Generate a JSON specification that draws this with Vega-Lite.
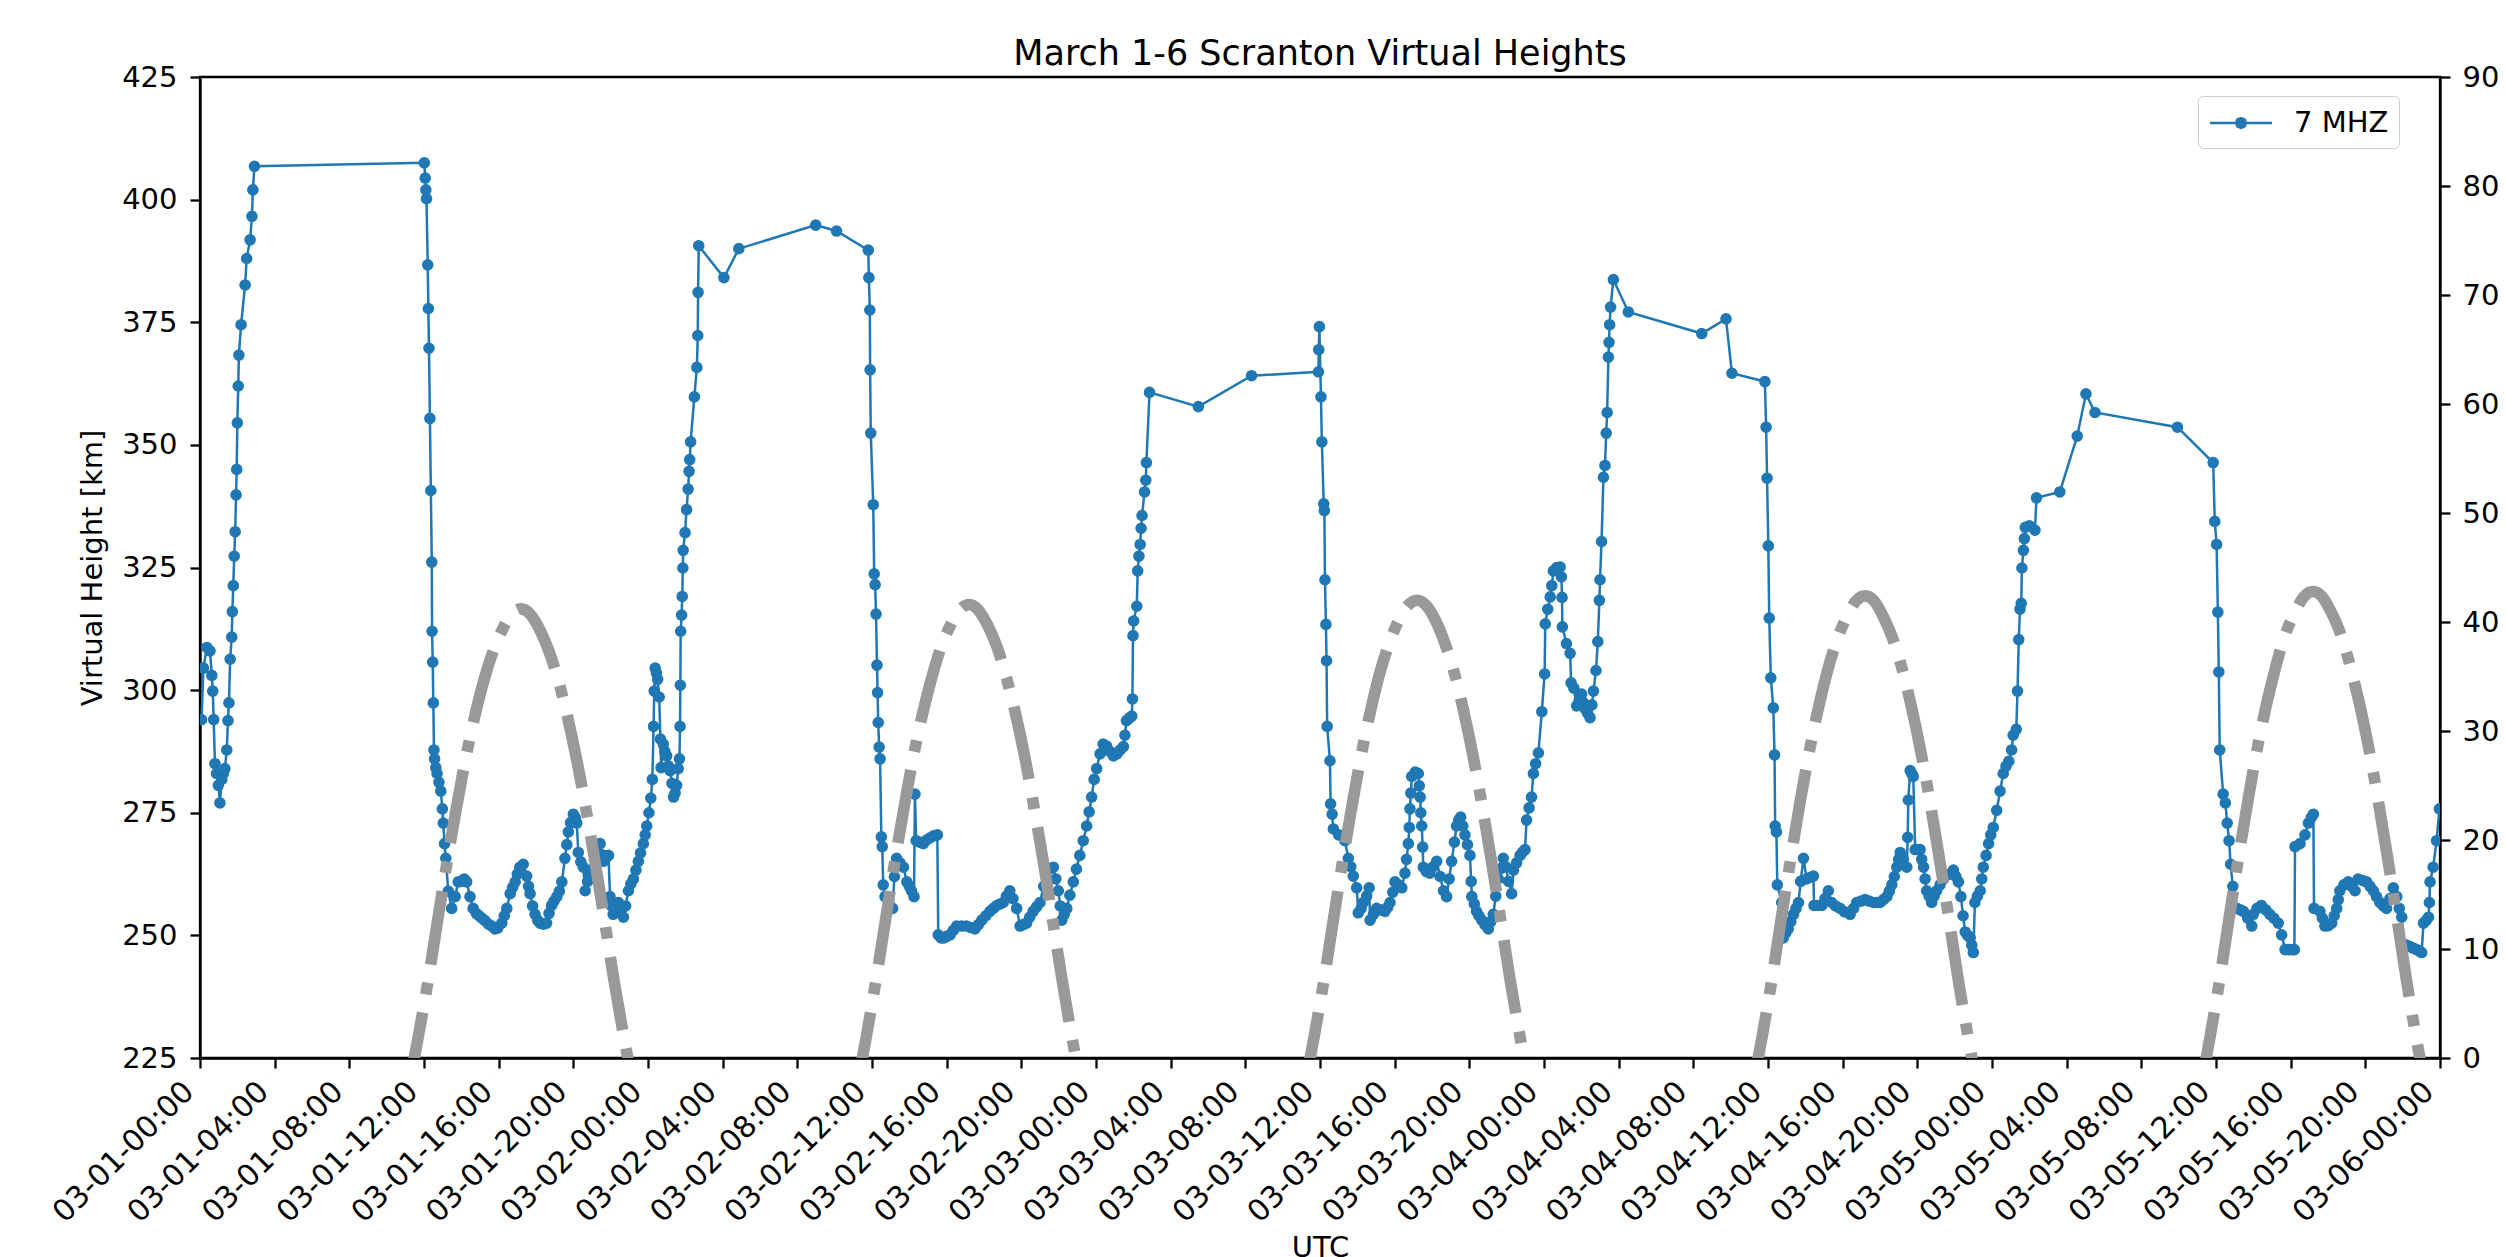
{
"$schema": "https://vega.github.io/schema/vega-lite/v6.json",
"width": 2240, "height": 981,
"autosize": {"type": "none"},
"padding": {"left": 200, "top": 77, "right": 66, "bottom": 199},
"background": "white",
"title": {"text": "March 1-6 Scranton Virtual Heights", "fontSize": 35, "fontWeight": "normal", "font": "DejaVu Sans", "color": "black", "offset": -9},
"datasets": {
"vh": [
{"time":"2024-03-01T00:05Z","height":294},{"time":"2024-03-01T00:11Z","height":304.5},{"time":"2024-03-01T00:22Z","height":308.7},{"time":"2024-03-01T00:32Z","height":308},{"time":"2024-03-01T00:38Z","height":303},{"time":"2024-03-01T00:41Z","height":299.8},{"time":"2024-03-01T00:44Z","height":294},{"time":"2024-03-01T00:48Z","height":285},{"time":"2024-03-01T00:53Z","height":283},{"time":"2024-03-01T00:59Z","height":280.6},{"time":"2024-03-01T01:04Z","height":277},{"time":"2024-03-01T01:10Z","height":281.8},{"time":"2024-03-01T01:15Z","height":283},{"time":"2024-03-01T01:20Z","height":284},{"time":"2024-03-01T01:26Z","height":287.8},{"time":"2024-03-01T01:30Z","height":293.8},{"time":"2024-03-01T01:33Z","height":297.4},{"time":"2024-03-01T01:37Z","height":306.3},{"time":"2024-03-01T01:42Z","height":310.8},{"time":"2024-03-01T01:44Z","height":316},{"time":"2024-03-01T01:47Z","height":321.3},{"time":"2024-03-01T01:50Z","height":327.3},{"time":"2024-03-01T01:53Z","height":332.3},{"time":"2024-03-01T01:56Z","height":339.8},{"time":"2024-03-01T01:58Z","height":345},{"time":"2024-03-01T02:00Z","height":354.5},{"time":"2024-03-01T02:03Z","height":362},{"time":"2024-03-01T02:05Z","height":368.3},{"time":"2024-03-01T02:12Z","height":374.5},{"time":"2024-03-01T02:25Z","height":382.6},{"time":"2024-03-01T02:30Z","height":388},{"time":"2024-03-01T02:41Z","height":391.8},{"time":"2024-03-01T02:47Z","height":396.6},{"time":"2024-03-01T02:50Z","height":402},{"time":"2024-03-01T02:55Z","height":406.8},
{"time":"2024-03-01T12:01Z","height":407.5},{"time":"2024-03-01T12:04Z","height":404.4},{"time":"2024-03-01T12:06Z","height":402},{"time":"2024-03-01T12:08Z","height":400.2},{"time":"2024-03-01T12:12Z","height":386.7},{"time":"2024-03-01T12:14Z","height":377.8},{"time":"2024-03-01T12:16Z","height":369.7},{"time":"2024-03-01T12:19Z","height":355.4},{"time":"2024-03-01T12:22Z","height":340.7},{"time":"2024-03-01T12:25Z","height":326.1},{"time":"2024-03-01T12:26Z","height":312},{"time":"2024-03-01T12:28Z","height":305.7},{"time":"2024-03-01T12:30Z","height":297.4},{"time":"2024-03-01T12:32Z","height":287.8},{"time":"2024-03-01T12:34Z","height":286},{"time":"2024-03-01T12:38Z","height":284.2},{"time":"2024-03-01T12:42Z","height":283},{"time":"2024-03-01T12:48Z","height":281.2},{"time":"2024-03-01T12:54Z","height":279.4},{"time":"2024-03-01T12:59Z","height":275.8},{"time":"2024-03-01T13:02Z","height":272.9},{"time":"2024-03-01T13:06Z","height":268.7},{"time":"2024-03-01T13:10Z","height":265.7},{"time":"2024-03-01T13:18Z","height":259},{"time":"2024-03-01T13:29Z","height":255.5},{"time":"2024-03-01T13:40Z","height":257.9},{"time":"2024-03-01T13:50Z","height":260.9},{"time":"2024-03-01T14:00Z","height":261},{"time":"2024-03-01T14:09Z","height":261.5},{"time":"2024-03-01T14:17Z","height":260.9},{"time":"2024-03-01T14:28Z","height":257.9},{"time":"2024-03-01T14:38Z","height":255.5},{"time":"2024-03-01T14:48Z","height":254.5},{"time":"2024-03-01T14:57Z","height":254},{"time":"2024-03-01T15:06Z","height":253.5},{"time":"2024-03-01T15:16Z","height":253},{"time":"2024-03-01T15:27Z","height":252.3},{"time":"2024-03-01T15:38Z","height":251.9},{"time":"2024-03-01T15:48Z","height":251.3},{"time":"2024-03-01T15:57Z","height":251.5},{"time":"2024-03-01T16:10Z","height":252.5},{"time":"2024-03-01T16:18Z","height":254},{"time":"2024-03-01T16:26Z","height":255.5},{"time":"2024-03-01T16:37Z","height":258.5},{"time":"2024-03-01T16:45Z","height":259.8},{"time":"2024-03-01T16:53Z","height":260.9},{"time":"2024-03-01T17:00Z","height":262.5},{"time":"2024-03-01T17:08Z","height":263.9},{"time":"2024-03-01T17:19Z","height":264.5},{"time":"2024-03-01T17:30Z","height":262.1},{"time":"2024-03-01T17:36Z","height":260},{"time":"2024-03-01T17:41Z","height":258.5},{"time":"2024-03-01T17:49Z","height":256},{"time":"2024-03-01T17:57Z","height":254.3},{"time":"2024-03-01T18:06Z","height":253},{"time":"2024-03-01T18:13Z","height":252.5},{"time":"2024-03-01T18:24Z","height":252.3},{"time":"2024-03-01T18:34Z","height":252.5},{"time":"2024-03-01T18:42Z","height":254.5},{"time":"2024-03-01T18:50Z","height":256.1},{"time":"2024-03-01T18:58Z","height":257},{"time":"2024-03-01T19:07Z","height":257.9},{"time":"2024-03-01T19:15Z","height":259},{"time":"2024-03-01T19:23Z","height":260.9},{"time":"2024-03-01T19:33Z","height":265.7},{"time":"2024-03-01T19:39Z","height":268.5},{"time":"2024-03-01T19:44Z","height":271.1},{"time":"2024-03-01T19:51Z","height":273},{"time":"2024-03-01T20:00Z","height":274.7},{"time":"2024-03-01T20:06Z","height":274},{"time":"2024-03-01T20:11Z","height":272.9},{"time":"2024-03-01T20:16Z","height":266.9},{"time":"2024-03-01T20:24Z","height":265},{"time":"2024-03-01T20:32Z","height":263.9},{"time":"2024-03-01T20:38Z","height":259.1},{"time":"2024-03-01T20:46Z","height":261},{"time":"2024-03-01T20:53Z","height":262.7},{"time":"2024-03-01T21:01Z","height":263.5},{"time":"2024-03-01T21:10Z","height":263.9},{"time":"2024-03-01T21:18Z","height":266},{"time":"2024-03-01T21:26Z","height":268.7},{"time":"2024-03-01T21:31Z","height":266.5},{"time":"2024-03-01T21:37Z","height":265.1},{"time":"2024-03-01T21:45Z","height":265.8},{"time":"2024-03-01T21:53Z","height":266.3},{"time":"2024-03-01T21:58Z","height":257.9},{"time":"2024-03-01T22:03Z","height":256},{"time":"2024-03-01T22:08Z","height":254.3},{"time":"2024-03-01T22:17Z","height":255.5},{"time":"2024-03-01T22:25Z","height":256.7},{"time":"2024-03-01T22:33Z","height":255},{"time":"2024-03-01T22:41Z","height":253.7},{"time":"2024-03-01T22:48Z","height":256},{"time":"2024-03-01T22:57Z","height":259.1},{"time":"2024-03-01T23:05Z","height":260.5},{"time":"2024-03-01T23:13Z","height":261.5},{"time":"2024-03-01T23:21Z","height":263.3},{"time":"2024-03-01T23:29Z","height":265.1},{"time":"2024-03-01T23:36Z","height":266.8},{"time":"2024-03-01T23:45Z","height":268.7},{"time":"2024-03-01T23:51Z","height":270.5},{"time":"2024-03-01T23:56Z","height":272.3},
{"time":"2024-03-02T00:03Z","height":275},{"time":"2024-03-02T00:09Z","height":278},{"time":"2024-03-02T00:14Z","height":281.8},{"time":"2024-03-02T00:18Z","height":292.6},{"time":"2024-03-02T00:20Z","height":299.8},{"time":"2024-03-02T00:23Z","height":304.5},{"time":"2024-03-02T00:27Z","height":303.5},{"time":"2024-03-02T00:31Z","height":302.2},{"time":"2024-03-02T00:36Z","height":298.6},{"time":"2024-03-02T00:40Z","height":290},{"time":"2024-03-02T00:42Z","height":284.2},{"time":"2024-03-02T00:49Z","height":289},{"time":"2024-03-02T00:54Z","height":287.5},{"time":"2024-03-02T01:00Z","height":286.6},{"time":"2024-03-02T01:06Z","height":284.5},{"time":"2024-03-02T01:11Z","height":283.6},{"time":"2024-03-02T01:17Z","height":281},{"time":"2024-03-02T01:22Z","height":278.2},{"time":"2024-03-02T01:27Z","height":279},{"time":"2024-03-02T01:32Z","height":280.6},{"time":"2024-03-02T01:37Z","height":284},{"time":"2024-03-02T01:41Z","height":286},{"time":"2024-03-02T01:43Z","height":292.6},{"time":"2024-03-02T01:44Z","height":301},{"time":"2024-03-02T01:45Z","height":312},{"time":"2024-03-02T01:48Z","height":315.3},{"time":"2024-03-02T01:50Z","height":319.1},{"time":"2024-03-02T01:52Z","height":324.9},{"time":"2024-03-02T01:53Z","height":328.5},{"time":"2024-03-02T01:59Z","height":332.1},{"time":"2024-03-02T02:04Z","height":336.8},{"time":"2024-03-02T02:09Z","height":341},{"time":"2024-03-02T02:12Z","height":344.6},{"time":"2024-03-02T02:14Z","height":347},{"time":"2024-03-02T02:17Z","height":350.6},{"time":"2024-03-02T02:29Z","height":359.8},{"time":"2024-03-02T02:37Z","height":365.8},{"time":"2024-03-02T02:40Z","height":372.3},{"time":"2024-03-02T02:41Z","height":381.1},{"time":"2024-03-02T02:43Z","height":390.6},{"time":"2024-03-02T04:04Z","height":384.1},{"time":"2024-03-02T04:52Z","height":390},{"time":"2024-03-02T08:59Z","height":394.8},{"time":"2024-03-02T10:06Z","height":393.6},{"time":"2024-03-02T11:48Z","height":389.7},{"time":"2024-03-02T11:50Z","height":384.1},{"time":"2024-03-02T11:53Z","height":377.5},{"time":"2024-03-02T11:54Z","height":365.3},{"time":"2024-03-02T11:56Z","height":352.4},{"time":"2024-03-02T12:04Z","height":337.8},{"time":"2024-03-02T12:07Z","height":323.7},{"time":"2024-03-02T12:10Z","height":321.5},{"time":"2024-03-02T12:13Z","height":315.5},{"time":"2024-03-02T12:16Z","height":305.1},{"time":"2024-03-02T12:18Z","height":299.5},{"time":"2024-03-02T12:20Z","height":293.4},{"time":"2024-03-02T12:23Z","height":288.4},{"time":"2024-03-02T12:26Z","height":286},{"time":"2024-03-02T12:30Z","height":270.1},{"time":"2024-03-02T12:33Z","height":268.1},{"time":"2024-03-02T12:36Z","height":260.3},{"time":"2024-03-02T12:42Z","height":257.9},{"time":"2024-03-02T12:54Z","height":256.5},{"time":"2024-03-02T13:06Z","height":255.5},{"time":"2024-03-02T13:12Z","height":262},{"time":"2024-03-02T13:19Z","height":265.7},{"time":"2024-03-02T13:30Z","height":264.8},{"time":"2024-03-02T13:41Z","height":263.9},{"time":"2024-03-02T13:52Z","height":260.9},{"time":"2024-03-02T14:00Z","height":260},{"time":"2024-03-02T14:07Z","height":259.1},{"time":"2024-03-02T14:15Z","height":257.9},{"time":"2024-03-02T14:18Z","height":278.8},{"time":"2024-03-02T14:22Z","height":269.3},{"time":"2024-03-02T14:33Z","height":269},{"time":"2024-03-02T14:45Z","height":268.7},{"time":"2024-03-02T14:57Z","height":269.5},{"time":"2024-03-02T15:07Z","height":269.9},{"time":"2024-03-02T15:18Z","height":270.3},{"time":"2024-03-02T15:30Z","height":270.5},{"time":"2024-03-02T15:33Z","height":250.1},{"time":"2024-03-02T15:42Z","height":249.5},{"time":"2024-03-02T15:51Z","height":249.5},{"time":"2024-03-02T16:00Z","height":249.8},{"time":"2024-03-02T16:11Z","height":250.1},{"time":"2024-03-02T16:21Z","height":251},{"time":"2024-03-02T16:32Z","height":251.9},{"time":"2024-03-02T16:48Z","height":251.9},{"time":"2024-03-02T17:04Z","height":251.9},{"time":"2024-03-02T17:18Z","height":251.6},{"time":"2024-03-02T17:31Z","height":251.3},{"time":"2024-03-02T17:42Z","height":252.2},{"time":"2024-03-02T17:53Z","height":253.1},{"time":"2024-03-02T18:06Z","height":254},{"time":"2024-03-02T18:19Z","height":254.9},{"time":"2024-03-02T18:30Z","height":255.5},{"time":"2024-03-02T18:41Z","height":256.1},{"time":"2024-03-02T18:52Z","height":256.4},{"time":"2024-03-02T19:02Z","height":256.7},{"time":"2024-03-02T19:12Z","height":258},{"time":"2024-03-02T19:23Z","height":259.1},{"time":"2024-03-02T19:33Z","height":257.5},{"time":"2024-03-02T19:45Z","height":255.5},{"time":"2024-03-02T19:56Z","height":251.9},{"time":"2024-03-02T20:06Z","height":252.2},{"time":"2024-03-02T20:17Z","height":252.5},{"time":"2024-03-02T20:27Z","height":253.7},{"time":"2024-03-02T20:38Z","height":254.9},{"time":"2024-03-02T20:49Z","height":255.8},{"time":"2024-03-02T21:00Z","height":256.7},{"time":"2024-03-02T21:12Z","height":260},{"time":"2024-03-02T21:22Z","height":263.3},{"time":"2024-03-02T21:33Z","height":263.6},{"time":"2024-03-02T21:43Z","height":263.9},{"time":"2024-03-02T21:51Z","height":261.5},{"time":"2024-03-02T21:59Z","height":259.1},{"time":"2024-03-02T22:05Z","height":256},{"time":"2024-03-02T22:10Z","height":253.1},{"time":"2024-03-02T22:18Z","height":254.3},{"time":"2024-03-02T22:26Z","height":255.5},{"time":"2024-03-02T22:36Z","height":258.2},{"time":"2024-03-02T22:47Z","height":260.9},{"time":"2024-03-02T22:57Z","height":263.5},{"time":"2024-03-02T23:08Z","height":266.3},{"time":"2024-03-02T23:19Z","height":269.3},{"time":"2024-03-02T23:30Z","height":272.3},{"time":"2024-03-02T23:38Z","height":275.2},{"time":"2024-03-02T23:46Z","height":278.2},{"time":"2024-03-02T23:54Z","height":281.8},
{"time":"2024-03-03T00:02Z","height":284},{"time":"2024-03-03T00:13Z","height":287},{"time":"2024-03-03T00:23Z","height":289},{"time":"2024-03-03T00:34Z","height":288.6},{"time":"2024-03-03T00:45Z","height":287.5},{"time":"2024-03-03T00:56Z","height":286.6},{"time":"2024-03-03T01:07Z","height":287},{"time":"2024-03-03T01:18Z","height":287.8},{"time":"2024-03-03T01:28Z","height":288.5},{"time":"2024-03-03T01:33Z","height":290.8},{"time":"2024-03-03T01:38Z","height":293.8},{"time":"2024-03-03T01:47Z","height":294.3},{"time":"2024-03-03T01:55Z","height":294.7},{"time":"2024-03-03T01:57Z","height":298.2},{"time":"2024-03-03T01:59Z","height":311.1},{"time":"2024-03-03T02:01Z","height":314.1},{"time":"2024-03-03T02:11Z","height":317.1},{"time":"2024-03-03T02:14Z","height":324.3},{"time":"2024-03-03T02:18Z","height":327.3},{"time":"2024-03-03T02:22Z","height":329.7},{"time":"2024-03-03T02:25Z","height":333},{"time":"2024-03-03T02:28Z","height":335.6},{"time":"2024-03-03T02:36Z","height":340.4},{"time":"2024-03-03T02:40Z","height":342.8},{"time":"2024-03-03T02:42Z","height":346.4},{"time":"2024-03-03T02:52Z","height":360.7},{"time":"2024-03-03T05:29Z","height":357.8},{"time":"2024-03-03T08:20Z","height":364.1},{"time":"2024-03-03T11:55Z","height":364.9},{"time":"2024-03-03T11:56Z","height":369.4},{"time":"2024-03-03T11:58Z","height":374.1},{"time":"2024-03-03T12:03Z","height":359.8},{"time":"2024-03-03T12:06Z","height":350.6},{"time":"2024-03-03T12:12Z","height":338},{"time":"2024-03-03T12:14Z","height":336.6},{"time":"2024-03-03T12:16Z","height":322.5},{"time":"2024-03-03T12:19Z","height":313.4},{"time":"2024-03-03T12:21Z","height":306},{"time":"2024-03-03T12:23Z","height":292.6},{"time":"2024-03-03T12:32Z","height":285.6},{"time":"2024-03-03T12:34Z","height":276.8},{"time":"2024-03-03T12:39Z","height":274.7},{"time":"2024-03-03T12:43Z","height":271.7},{"time":"2024-03-03T13:00Z","height":270.5},{"time":"2024-03-03T13:20Z","height":269.3},{"time":"2024-03-03T13:31Z","height":265.7},{"time":"2024-03-03T13:39Z","height":264},{"time":"2024-03-03T13:47Z","height":262.1},{"time":"2024-03-03T13:58Z","height":259.7},{"time":"2024-03-03T14:03Z","height":254.6},{"time":"2024-03-03T14:12Z","height":255.5},{"time":"2024-03-03T14:19Z","height":256.7},{"time":"2024-03-03T14:30Z","height":258},{"time":"2024-03-03T14:38Z","height":259.7},{"time":"2024-03-03T14:41Z","height":253.1},{"time":"2024-03-03T14:52Z","height":254.3},{"time":"2024-03-03T15:02Z","height":255.5},{"time":"2024-03-03T15:15Z","height":255.2},{"time":"2024-03-03T15:29Z","height":254.9},{"time":"2024-03-03T15:37Z","height":255.7},{"time":"2024-03-03T15:45Z","height":256.7},{"time":"2024-03-03T15:54Z","height":258.8},{"time":"2024-03-03T16:01Z","height":260.9},{"time":"2024-03-03T16:12Z","height":260.3},{"time":"2024-03-03T16:23Z","height":259.7},{"time":"2024-03-03T16:33Z","height":262.7},{"time":"2024-03-03T16:38Z","height":265.5},{"time":"2024-03-03T16:44Z","height":268.7},{"time":"2024-03-03T16:47Z","height":272},{"time":"2024-03-03T16:49Z","height":275.8},{"time":"2024-03-03T16:52Z","height":279},{"time":"2024-03-03T16:55Z","height":282.4},{"time":"2024-03-03T17:06Z","height":283.3},{"time":"2024-03-03T17:16Z","height":283},{"time":"2024-03-03T17:19Z","height":280.5},{"time":"2024-03-03T17:22Z","height":278.2},{"time":"2024-03-03T17:24Z","height":275},{"time":"2024-03-03T17:27Z","height":272.3},{"time":"2024-03-03T17:30Z","height":268},{"time":"2024-03-03T17:32Z","height":263.9},{"time":"2024-03-03T17:42Z","height":263},{"time":"2024-03-03T17:53Z","height":262.7},{"time":"2024-03-03T18:04Z","height":264},{"time":"2024-03-03T18:15Z","height":265.1},{"time":"2024-03-03T18:26Z","height":262},{"time":"2024-03-03T18:37Z","height":259.1},{"time":"2024-03-03T18:47Z","height":257.9},{"time":"2024-03-03T18:55Z","height":261.5},{"time":"2024-03-03T19:03Z","height":265.1},{"time":"2024-03-03T19:12Z","height":269},{"time":"2024-03-03T19:19Z","height":272.3},{"time":"2024-03-03T19:26Z","height":273.5},{"time":"2024-03-03T19:32Z","height":274.1},{"time":"2024-03-03T19:39Z","height":272.3},{"time":"2024-03-03T19:46Z","height":270.5},{"time":"2024-03-03T19:54Z","height":268.5},{"time":"2024-03-03T20:02Z","height":266.3},{"time":"2024-03-03T20:06Z","height":261},{"time":"2024-03-03T20:08Z","height":257.9},{"time":"2024-03-03T20:16Z","height":256.4},{"time":"2024-03-03T20:23Z","height":254.9},{"time":"2024-03-03T20:31Z","height":254},{"time":"2024-03-03T20:40Z","height":253.1},{"time":"2024-03-03T20:50Z","height":252.2},{"time":"2024-03-03T21:01Z","height":251.3},{"time":"2024-03-03T21:09Z","height":252.8},{"time":"2024-03-03T21:17Z","height":254.3},{"time":"2024-03-03T21:25Z","height":258},{"time":"2024-03-03T21:33Z","height":261.5},{"time":"2024-03-03T21:41Z","height":263.6},{"time":"2024-03-03T21:49Z","height":265.7},{"time":"2024-03-03T21:57Z","height":264},{"time":"2024-03-03T22:06Z","height":261},{"time":"2024-03-03T22:16Z","height":258.5},{"time":"2024-03-03T22:22Z","height":263.3},{"time":"2024-03-03T22:32Z","height":264.8},{"time":"2024-03-03T22:43Z","height":266.3},{"time":"2024-03-03T22:51Z","height":267},{"time":"2024-03-03T22:59Z","height":267.5},{"time":"2024-03-03T23:04Z","height":273.5},{"time":"2024-03-03T23:12Z","height":276},{"time":"2024-03-03T23:20Z","height":278.2},{"time":"2024-03-03T23:26Z","height":283},{"time":"2024-03-03T23:33Z","height":285},{"time":"2024-03-03T23:42Z","height":287.2},{"time":"2024-03-03T23:53Z","height":295.6},
{"time":"2024-03-04T00:02Z","height":303.3},{"time":"2024-03-04T00:04Z","height":313.5},{"time":"2024-03-04T00:12Z","height":316.5},{"time":"2024-03-04T00:20Z","height":319},{"time":"2024-03-04T00:25Z","height":321.3},{"time":"2024-03-04T00:30Z","height":324.3},{"time":"2024-03-04T00:41Z","height":325},{"time":"2024-03-04T00:52Z","height":325.1},{"time":"2024-03-04T00:56Z","height":323.1},{"time":"2024-03-04T00:58Z","height":318.9},{"time":"2024-03-04T00:59Z","height":312.9},{"time":"2024-03-04T01:12Z","height":309.5},{"time":"2024-03-04T01:24Z","height":307.5},{"time":"2024-03-04T01:27Z","height":301.5},{"time":"2024-03-04T01:36Z","height":300.4},{"time":"2024-03-04T01:45Z","height":296.8},{"time":"2024-03-04T01:53Z","height":298},{"time":"2024-03-04T02:01Z","height":299.2},{"time":"2024-03-04T02:06Z","height":297.5},{"time":"2024-03-04T02:12Z","height":296.2},{"time":"2024-03-04T02:20Z","height":295.3},{"time":"2024-03-04T02:28Z","height":294.4},{"time":"2024-03-04T02:34Z","height":297},{"time":"2024-03-04T02:39Z","height":299.8},{"time":"2024-03-04T02:47Z","height":304},{"time":"2024-03-04T02:53Z","height":309.9},{"time":"2024-03-04T02:58Z","height":318.3},{"time":"2024-03-04T03:00Z","height":322.5},{"time":"2024-03-04T03:05Z","height":330.3},{"time":"2024-03-04T03:11Z","height":343.4},{"time":"2024-03-04T03:16Z","height":345.8},{"time":"2024-03-04T03:20Z","height":352.4},{"time":"2024-03-04T03:23Z","height":356.6},{"time":"2024-03-04T03:27Z","height":367.9},{"time":"2024-03-04T03:29Z","height":370.9},{"time":"2024-03-04T03:31Z","height":374.5},{"time":"2024-03-04T03:34Z","height":378.1},{"time":"2024-03-04T03:43Z","height":383.7},{"time":"2024-03-04T04:31Z","height":377.1},{"time":"2024-03-04T08:27Z","height":372.7},{"time":"2024-03-04T09:45Z","height":375.7},{"time":"2024-03-04T10:04Z","height":364.6},{"time":"2024-03-04T11:50Z","height":362.9},{"time":"2024-03-04T11:54Z","height":353.6},{"time":"2024-03-04T11:57Z","height":343.2},{"time":"2024-03-04T12:01Z","height":329.4},{"time":"2024-03-04T12:04Z","height":314.7},{"time":"2024-03-04T12:09Z","height":302.5},{"time":"2024-03-04T12:17Z","height":296.4},{"time":"2024-03-04T12:21Z","height":286.8},{"time":"2024-03-04T12:23Z","height":272.3},{"time":"2024-03-04T12:27Z","height":271.1},{"time":"2024-03-04T12:30Z","height":260.3},{"time":"2024-03-04T12:44Z","height":256.7},{"time":"2024-03-04T12:49Z","height":249.5},{"time":"2024-03-04T12:57Z","height":250.5},{"time":"2024-03-04T13:05Z","height":251.3},{"time":"2024-03-04T13:13Z","height":252.8},{"time":"2024-03-04T13:22Z","height":254.3},{"time":"2024-03-04T13:30Z","height":255.5},{"time":"2024-03-04T13:38Z","height":256.7},{"time":"2024-03-04T13:45Z","height":261},{"time":"2024-03-04T13:54Z","height":265.7},{"time":"2024-03-04T14:04Z","height":261.5},{"time":"2024-03-04T14:15Z","height":261.8},{"time":"2024-03-04T14:26Z","height":262.1},{"time":"2024-03-04T14:28Z","height":256.1},{"time":"2024-03-04T14:39Z","height":256.1},{"time":"2024-03-04T14:53Z","height":256.1},{"time":"2024-03-04T15:03Z","height":257.5},{"time":"2024-03-04T15:14Z","height":259.1},{"time":"2024-03-04T15:25Z","height":256.7},{"time":"2024-03-04T15:37Z","height":256},{"time":"2024-03-04T15:52Z","height":255.5},{"time":"2024-03-04T16:06Z","height":254.8},{"time":"2024-03-04T16:24Z","height":254.3},{"time":"2024-03-04T16:35Z","height":255.5},{"time":"2024-03-04T16:45Z","height":256.7},{"time":"2024-03-04T16:59Z","height":257},{"time":"2024-03-04T17:12Z","height":257.3},{"time":"2024-03-04T17:25Z","height":257},{"time":"2024-03-04T17:39Z","height":256.7},{"time":"2024-03-04T17:49Z","height":256.7},{"time":"2024-03-04T18:00Z","height":256.7},{"time":"2024-03-04T18:11Z","height":257.3},{"time":"2024-03-04T18:22Z","height":257.9},{"time":"2024-03-04T18:30Z","height":259},{"time":"2024-03-04T18:38Z","height":260.3},{"time":"2024-03-04T18:46Z","height":262},{"time":"2024-03-04T18:54Z","height":263.9},{"time":"2024-03-04T19:00Z","height":265.5},{"time":"2024-03-04T19:05Z","height":266.9},{"time":"2024-03-04T19:15Z","height":265.5},{"time":"2024-03-04T19:26Z","height":263.9},{"time":"2024-03-04T19:29Z","height":270},{"time":"2024-03-04T19:31Z","height":277.6},{"time":"2024-03-04T19:37Z","height":283.6},{"time":"2024-03-04T19:42Z","height":283},{"time":"2024-03-04T19:47Z","height":282.4},{"time":"2024-03-04T19:53Z","height":267.5},{"time":"2024-03-04T20:00Z","height":267.5},{"time":"2024-03-04T20:09Z","height":267.5},{"time":"2024-03-04T20:14Z","height":265.5},{"time":"2024-03-04T20:20Z","height":263.9},{"time":"2024-03-04T20:25Z","height":261.5},{"time":"2024-03-04T20:30Z","height":259.1},{"time":"2024-03-04T20:38Z","height":258},{"time":"2024-03-04T20:46Z","height":256.7},{"time":"2024-03-04T20:54Z","height":258},{"time":"2024-03-04T21:02Z","height":259.1},{"time":"2024-03-04T21:13Z","height":260.3},{"time":"2024-03-04T21:24Z","height":261.5},{"time":"2024-03-04T21:39Z","height":262.4},{"time":"2024-03-04T21:56Z","height":263.3},{"time":"2024-03-04T22:04Z","height":262},{"time":"2024-03-04T22:12Z","height":260.9},{"time":"2024-03-04T22:20Z","height":257.9},{"time":"2024-03-04T22:27Z","height":254},{"time":"2024-03-04T22:34Z","height":250.7},{"time":"2024-03-04T22:42Z","height":250},{"time":"2024-03-04T22:50Z","height":249.5},{"time":"2024-03-04T22:55Z","height":248},{"time":"2024-03-04T23:00Z","height":246.5},{"time":"2024-03-04T23:05Z","height":256.7},{"time":"2024-03-04T23:13Z","height":258},{"time":"2024-03-04T23:22Z","height":259.1},{"time":"2024-03-04T23:27Z","height":261.5},{"time":"2024-03-04T23:32Z","height":263.9},{"time":"2024-03-04T23:41Z","height":266.3},{"time":"2024-03-04T23:49Z","height":268.7},{"time":"2024-03-04T23:56Z","height":270.5},
{"time":"2024-03-05T00:04Z","height":272},{"time":"2024-03-05T00:15Z","height":275.5},{"time":"2024-03-05T00:26Z","height":279.4},{"time":"2024-03-05T00:36Z","height":283},{"time":"2024-03-05T00:45Z","height":284.5},{"time":"2024-03-05T00:54Z","height":285.5},{"time":"2024-03-05T01:03Z","height":287.8},{"time":"2024-03-05T01:08Z","height":290.8},{"time":"2024-03-05T01:18Z","height":292},{"time":"2024-03-05T01:22Z","height":299.8},{"time":"2024-03-05T01:26Z","height":310.3},{"time":"2024-03-05T01:30Z","height":316.5},{"time":"2024-03-05T01:34Z","height":317.7},{"time":"2024-03-05T01:36Z","height":324.9},{"time":"2024-03-05T01:41Z","height":328.5},{"time":"2024-03-05T01:44Z","height":330.9},{"time":"2024-03-05T01:47Z","height":333.2},{"time":"2024-03-05T02:00Z","height":333.5},{"time":"2024-03-05T02:18Z","height":332.6},{"time":"2024-03-05T02:23Z","height":339.2},{"time":"2024-03-05T03:38Z","height":340.4},{"time":"2024-03-05T04:34Z","height":351.8},{"time":"2024-03-05T05:02Z","height":360.4},{"time":"2024-03-05T05:31Z","height":356.6},{"time":"2024-03-05T09:56Z","height":353.6},{"time":"2024-03-05T11:51Z","height":346.4},{"time":"2024-03-05T11:56Z","height":334.4},{"time":"2024-03-05T12:02Z","height":329.7},{"time":"2024-03-05T12:06Z","height":315.9},{"time":"2024-03-05T12:09Z","height":303.7},{"time":"2024-03-05T12:12Z","height":287.8},{"time":"2024-03-05T12:23Z","height":278.8},{"time":"2024-03-05T12:30Z","height":277},{"time":"2024-03-05T12:36Z","height":272.9},{"time":"2024-03-05T12:42Z","height":269.3},{"time":"2024-03-05T12:47Z","height":264.5},{"time":"2024-03-05T12:54Z","height":260},{"time":"2024-03-05T13:07Z","height":255.5},{"time":"2024-03-05T13:18Z","height":255.2},{"time":"2024-03-05T13:28Z","height":254.9},{"time":"2024-03-05T13:42Z","height":253.5},{"time":"2024-03-05T13:55Z","height":251.9},{"time":"2024-03-05T14:00Z","height":254.3},{"time":"2024-03-05T14:12Z","height":255.5},{"time":"2024-03-05T14:26Z","height":256.1},{"time":"2024-03-05T14:40Z","height":255.2},{"time":"2024-03-05T14:53Z","height":254.3},{"time":"2024-03-05T15:06Z","height":253.5},{"time":"2024-03-05T15:20Z","height":252.5},{"time":"2024-03-05T15:31Z","height":250.1},{"time":"2024-03-05T15:42Z","height":247.1},{"time":"2024-03-05T15:54Z","height":247.1},{"time":"2024-03-05T16:06Z","height":247.1},{"time":"2024-03-05T16:12Z","height":247.1},{"time":"2024-03-05T16:14Z","height":268.1},{"time":"2024-03-05T16:30Z","height":268.7},{"time":"2024-03-05T16:46Z","height":270.5},{"time":"2024-03-05T16:57Z","height":272.9},{"time":"2024-03-05T17:06Z","height":274},{"time":"2024-03-05T17:13Z","height":274.7},{"time":"2024-03-05T17:15Z","height":255.5},{"time":"2024-03-05T17:34Z","height":254.9},{"time":"2024-03-05T17:42Z","height":253.5},{"time":"2024-03-05T17:50Z","height":251.9},{"time":"2024-03-05T18:01Z","height":252},{"time":"2024-03-05T18:12Z","height":252.5},{"time":"2024-03-05T18:20Z","height":254},{"time":"2024-03-05T18:28Z","height":255.5},{"time":"2024-03-05T18:33Z","height":257.3},{"time":"2024-03-05T18:38Z","height":259.1},{"time":"2024-03-05T18:51Z","height":260.3},{"time":"2024-03-05T19:05Z","height":260.9},{"time":"2024-03-05T19:16Z","height":260},{"time":"2024-03-05T19:27Z","height":259.1},{"time":"2024-03-05T19:37Z","height":261.5},{"time":"2024-03-05T19:51Z","height":261.2},{"time":"2024-03-05T20:04Z","height":260.9},{"time":"2024-03-05T20:15Z","height":260},{"time":"2024-03-05T20:26Z","height":259.1},{"time":"2024-03-05T20:36Z","height":257.9},{"time":"2024-03-05T20:47Z","height":256.7},{"time":"2024-03-05T20:58Z","height":256},{"time":"2024-03-05T21:08Z","height":255.5},{"time":"2024-03-05T21:19Z","height":257.5},{"time":"2024-03-05T21:30Z","height":259.7},{"time":"2024-03-05T21:41Z","height":257.9},{"time":"2024-03-05T21:49Z","height":255.5},{"time":"2024-03-05T21:57Z","height":253.7},{"time":"2024-03-05T22:00Z","height":248.3},{"time":"2024-03-05T22:12Z","height":248},{"time":"2024-03-05T22:23Z","height":247.7},{"time":"2024-03-05T22:34Z","height":247.4},{"time":"2024-03-05T22:45Z","height":247.1},{"time":"2024-03-05T22:54Z","height":246.8},{"time":"2024-03-05T23:01Z","height":246.5},{"time":"2024-03-05T23:07Z","height":252.5},{"time":"2024-03-05T23:15Z","height":253},{"time":"2024-03-05T23:23Z","height":253.7},{"time":"2024-03-05T23:26Z","height":256.7},{"time":"2024-03-05T23:28Z","height":260.9},{"time":"2024-03-05T23:38Z","height":263.9},{"time":"2024-03-05T23:49Z","height":269.3},{"time":"2024-03-05T23:58Z","height":275.8}
],
"sun": [
{"day":1,"time":"2024-03-01T11:12Z","elev":-2.5},{"day":1,"time":"2024-03-01T11:42Z","elev":2.0},{"day":1,"time":"2024-03-01T12:12Z","elev":6.9},{"day":1,"time":"2024-03-01T12:42Z","elev":12.3},{"day":1,"time":"2024-03-01T13:12Z","elev":17.6},{"day":1,"time":"2024-03-01T13:42Z","elev":22.6},{"day":1,"time":"2024-03-01T14:12Z","elev":27.2},{"day":1,"time":"2024-03-01T14:42Z","elev":31.2},{"day":1,"time":"2024-03-01T15:12Z","elev":34.6},{"day":1,"time":"2024-03-01T15:42Z","elev":37.3},{"day":1,"time":"2024-03-01T16:12Z","elev":39.3},{"day":1,"time":"2024-03-01T16:42Z","elev":40.7},{"day":1,"time":"2024-03-01T17:12Z","elev":41.2},{"day":1,"time":"2024-03-01T17:42Z","elev":40.7},{"day":1,"time":"2024-03-01T18:12Z","elev":39.3},{"day":1,"time":"2024-03-01T18:42Z","elev":37.3},{"day":1,"time":"2024-03-01T19:12Z","elev":34.6},{"day":1,"time":"2024-03-01T19:42Z","elev":31.2},{"day":1,"time":"2024-03-01T20:12Z","elev":27.2},{"day":1,"time":"2024-03-01T20:42Z","elev":22.6},{"day":1,"time":"2024-03-01T21:12Z","elev":17.6},{"day":1,"time":"2024-03-01T21:42Z","elev":12.3},{"day":1,"time":"2024-03-01T22:12Z","elev":6.9},{"day":1,"time":"2024-03-01T22:42Z","elev":2.0},{"day":1,"time":"2024-03-01T23:12Z","elev":-2.5},
{"day":2,"time":"2024-03-02T11:12Z","elev":-2.5},{"day":2,"time":"2024-03-02T11:42Z","elev":2.0},{"day":2,"time":"2024-03-02T12:12Z","elev":7.0},{"day":2,"time":"2024-03-02T12:42Z","elev":12.4},{"day":2,"time":"2024-03-02T13:12Z","elev":17.8},{"day":2,"time":"2024-03-02T13:42Z","elev":22.8},{"day":2,"time":"2024-03-02T14:12Z","elev":27.5},{"day":2,"time":"2024-03-02T14:42Z","elev":31.5},{"day":2,"time":"2024-03-02T15:12Z","elev":34.9},{"day":2,"time":"2024-03-02T15:42Z","elev":37.7},{"day":2,"time":"2024-03-02T16:12Z","elev":39.7},{"day":2,"time":"2024-03-02T16:42Z","elev":41.1},{"day":2,"time":"2024-03-02T17:12Z","elev":41.6},{"day":2,"time":"2024-03-02T17:42Z","elev":41.1},{"day":2,"time":"2024-03-02T18:12Z","elev":39.7},{"day":2,"time":"2024-03-02T18:42Z","elev":37.7},{"day":2,"time":"2024-03-02T19:12Z","elev":34.9},{"day":2,"time":"2024-03-02T19:42Z","elev":31.5},{"day":2,"time":"2024-03-02T20:12Z","elev":27.5},{"day":2,"time":"2024-03-02T20:42Z","elev":22.8},{"day":2,"time":"2024-03-02T21:12Z","elev":17.8},{"day":2,"time":"2024-03-02T21:42Z","elev":12.4},{"day":2,"time":"2024-03-02T22:12Z","elev":7.0},{"day":2,"time":"2024-03-02T22:42Z","elev":2.0},{"day":2,"time":"2024-03-02T23:12Z","elev":-2.5},
{"day":3,"time":"2024-03-03T11:12Z","elev":-2.5},{"day":3,"time":"2024-03-03T11:42Z","elev":2.1},{"day":3,"time":"2024-03-03T12:12Z","elev":7.0},{"day":3,"time":"2024-03-03T12:42Z","elev":12.5},{"day":3,"time":"2024-03-03T13:12Z","elev":17.9},{"day":3,"time":"2024-03-03T13:42Z","elev":23.0},{"day":3,"time":"2024-03-03T14:12Z","elev":27.7},{"day":3,"time":"2024-03-03T14:42Z","elev":31.8},{"day":3,"time":"2024-03-03T15:12Z","elev":35.3},{"day":3,"time":"2024-03-03T15:42Z","elev":38.0},{"day":3,"time":"2024-03-03T16:12Z","elev":40.1},{"day":3,"time":"2024-03-03T16:42Z","elev":41.5},{"day":3,"time":"2024-03-03T17:12Z","elev":42.0},{"day":3,"time":"2024-03-03T17:42Z","elev":41.5},{"day":3,"time":"2024-03-03T18:12Z","elev":40.1},{"day":3,"time":"2024-03-03T18:42Z","elev":38.0},{"day":3,"time":"2024-03-03T19:12Z","elev":35.3},{"day":3,"time":"2024-03-03T19:42Z","elev":31.8},{"day":3,"time":"2024-03-03T20:12Z","elev":27.7},{"day":3,"time":"2024-03-03T20:42Z","elev":23.0},{"day":3,"time":"2024-03-03T21:12Z","elev":17.9},{"day":3,"time":"2024-03-03T21:42Z","elev":12.5},{"day":3,"time":"2024-03-03T22:12Z","elev":7.0},{"day":3,"time":"2024-03-03T22:42Z","elev":2.1},{"day":3,"time":"2024-03-03T23:12Z","elev":-2.5},
{"day":4,"time":"2024-03-04T11:12Z","elev":-2.5},{"day":4,"time":"2024-03-04T11:42Z","elev":2.1},{"day":4,"time":"2024-03-04T12:12Z","elev":7.1},{"day":4,"time":"2024-03-04T12:42Z","elev":12.7},{"day":4,"time":"2024-03-04T13:12Z","elev":18.1},{"day":4,"time":"2024-03-04T13:42Z","elev":23.3},{"day":4,"time":"2024-03-04T14:12Z","elev":28.0},{"day":4,"time":"2024-03-04T14:42Z","elev":32.1},{"day":4,"time":"2024-03-04T15:12Z","elev":35.6},{"day":4,"time":"2024-03-04T15:42Z","elev":38.4},{"day":4,"time":"2024-03-04T16:12Z","elev":40.4},{"day":4,"time":"2024-03-04T16:42Z","elev":41.9},{"day":4,"time":"2024-03-04T17:12Z","elev":42.4},{"day":4,"time":"2024-03-04T17:42Z","elev":41.9},{"day":4,"time":"2024-03-04T18:12Z","elev":40.4},{"day":4,"time":"2024-03-04T18:42Z","elev":38.4},{"day":4,"time":"2024-03-04T19:12Z","elev":35.6},{"day":4,"time":"2024-03-04T19:42Z","elev":32.1},{"day":4,"time":"2024-03-04T20:12Z","elev":28.0},{"day":4,"time":"2024-03-04T20:42Z","elev":23.3},{"day":4,"time":"2024-03-04T21:12Z","elev":18.1},{"day":4,"time":"2024-03-04T21:42Z","elev":12.7},{"day":4,"time":"2024-03-04T22:12Z","elev":7.1},{"day":4,"time":"2024-03-04T22:42Z","elev":2.1},{"day":4,"time":"2024-03-04T23:12Z","elev":-2.5},
{"day":5,"time":"2024-03-05T11:12Z","elev":-2.5},{"day":5,"time":"2024-03-05T11:42Z","elev":2.1},{"day":5,"time":"2024-03-05T12:12Z","elev":7.2},{"day":5,"time":"2024-03-05T12:42Z","elev":12.8},{"day":5,"time":"2024-03-05T13:12Z","elev":18.3},{"day":5,"time":"2024-03-05T13:42Z","elev":23.5},{"day":5,"time":"2024-03-05T14:12Z","elev":28.3},{"day":5,"time":"2024-03-05T14:42Z","elev":32.4},{"day":5,"time":"2024-03-05T15:12Z","elev":35.9},{"day":5,"time":"2024-03-05T15:42Z","elev":38.8},{"day":5,"time":"2024-03-05T16:12Z","elev":40.8},{"day":5,"time":"2024-03-05T16:42Z","elev":42.3},{"day":5,"time":"2024-03-05T17:12Z","elev":42.8},{"day":5,"time":"2024-03-05T17:42Z","elev":42.3},{"day":5,"time":"2024-03-05T18:12Z","elev":40.8},{"day":5,"time":"2024-03-05T18:42Z","elev":38.8},{"day":5,"time":"2024-03-05T19:12Z","elev":35.9},{"day":5,"time":"2024-03-05T19:42Z","elev":32.4},{"day":5,"time":"2024-03-05T20:12Z","elev":28.3},{"day":5,"time":"2024-03-05T20:42Z","elev":23.5},{"day":5,"time":"2024-03-05T21:12Z","elev":18.3},{"day":5,"time":"2024-03-05T21:42Z","elev":12.8},{"day":5,"time":"2024-03-05T22:12Z","elev":7.2},{"day":5,"time":"2024-03-05T22:42Z","elev":2.1},{"day":5,"time":"2024-03-05T23:12Z","elev":-2.5}
]
},
"layer": [
{
"data": {"name": "vh"},
"mark": {"type": "line", "strokeWidth": 2.5, "clip": true, "point": {"filled": true, "size": 135}},
"encoding": {
"x": {"field": "time", "type": "temporal", "title": "UTC",
"scale": {"type": "utc", "domain": [1709251200000, 1709683200000]},
"axis": {"format": "%m-%d-%H:%M", "values": [1709251200000,1709265600000,1709280000000,1709294400000,1709308800000,1709323200000,1709337600000,1709352000000,1709366400000,1709380800000,1709395200000,1709409600000,1709424000000,1709438400000,1709452800000,1709467200000,1709481600000,1709496000000,1709510400000,1709524800000,1709539200000,1709553600000,1709568000000,1709582400000,1709596800000,1709611200000,1709625600000,1709640000000,1709654400000,1709668800000,1709683200000], "labelAngle": -45, "labelAlign": "right", "labelBaseline": "top", "labelFontSize": 30, "labelLimit": 0, "labelOffset": -22, "labelPadding": 8, "labelOverlap": false, "labelFlush": false, "labelBound": false, "titlePadding": 6}},
"y": {"field": "height", "type": "quantitative", "title": "Virtual Height [km]",
"scale": {"domain": [225, 425], "nice": false, "zero": false},
"axis": {"orient": "left", "values": [225, 250, 275, 300, 325, 350, 375, 400, 425], "labelPadding": 13, "titlePadding": 14}},
"color": {"datum": "7 MHZ", "scale": {"range": ["#1f77b4"]},
"legend": {"title": null, "orient": "none", "legendX": 1998, "legendY": 19,
"symbolType": "M-2,0L2,0M-0.32,0L-0.23,-0.23L0,-0.32L0.23,-0.23L0.32,0L0.23,0.23L0,0.32L-0.23,0.23Z",
"symbolSize": 961, "symbolStrokeWidth": 2.5, "symbolFillColor": "#1f77b4", "symbolStrokeColor": "#1f77b4",
"symbolOffset": 16, "labelOffset": 36,
"labelFontSize": 29, "labelFont": "DejaVu Sans", "labelColor": "black",
"padding": 10, "fillColor": "white", "strokeColor": "#cccccc", "cornerRadius": 5}}
}
},
{
"data": {"name": "sun"},
"mark": {"type": "line", "color": "#999999", "strokeWidth": 11.6, "strokeDash": [74, 18.6, 11.6, 18.6], "strokeCap": "butt", "clip": true, "interpolate": "monotone"},
"encoding": {
"x": {"field": "time", "type": "temporal"},
"y": {"field": "elev", "type": "quantitative", "title": null,
"scale": {"domain": [0, 90], "nice": false},
"axis": {"orient": "right", "values": [0, 10, 20, 30, 40, 50, 60, 70, 80, 90], "labelPadding": 12}},
"detail": {"field": "day"}
}
}
],
"resolve": {"scale": {"y": "independent"}, "axis": {"y": "independent"}},
"config": {
"font": "DejaVu Sans",
"view": {"stroke": "black", "strokeWidth": 2.3},
"axis": {"domainColor": "black", "domainWidth": 2.3, "tickColor": "black", "tickWidth": 2.3, "tickSize": 10, "labelFontSize": 29, "labelColor": "black", "labelFont": "DejaVu Sans", "titleFontSize": 29, "titleFontWeight": "normal", "titleColor": "black", "titleFont": "DejaVu Sans", "grid": false}
}
}
